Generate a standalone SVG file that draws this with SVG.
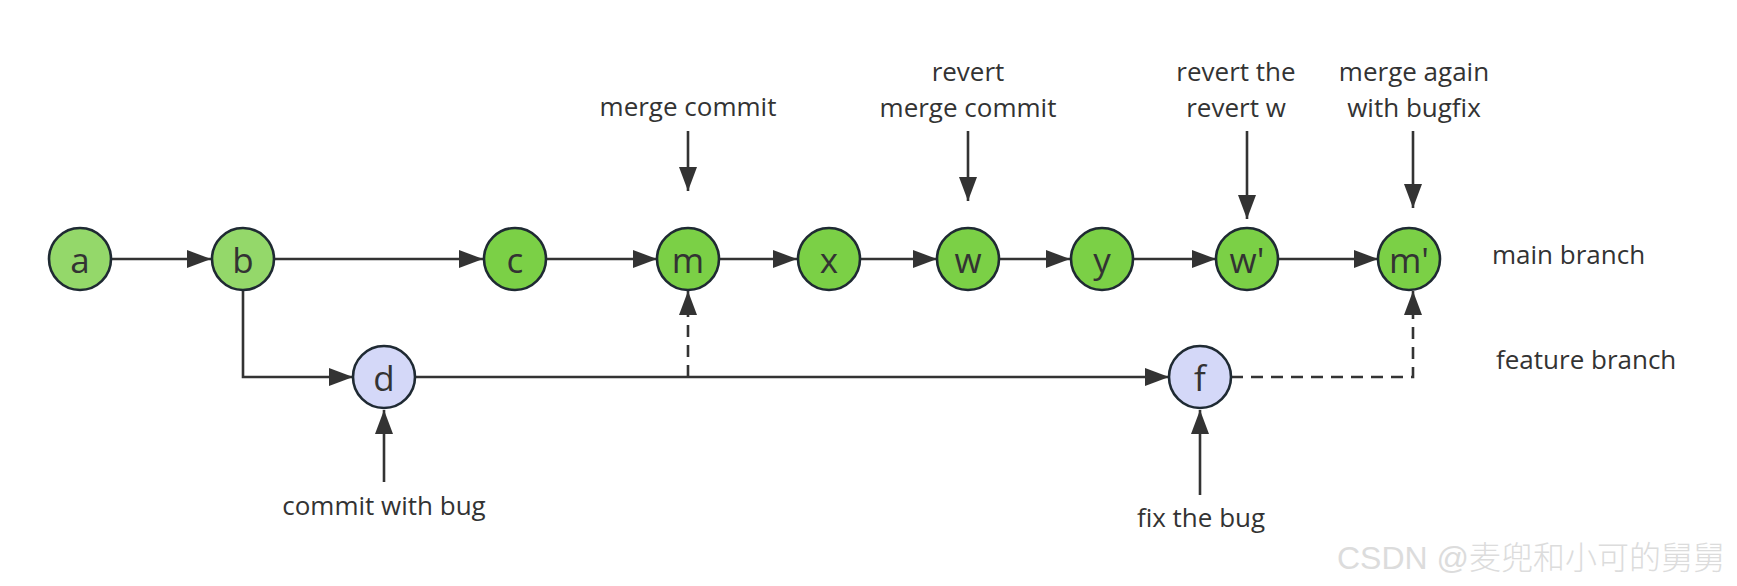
<svg xmlns="http://www.w3.org/2000/svg" width="1737" height="586" viewBox="0 0 1737 586">
<style>
.n circle{stroke:#1f2a33;stroke-width:2.6}
.main1 circle{fill:#94d86a}
.main2 circle{fill:#7bd046}
.feat circle{fill:#d4d8f8}
.n text{font-family:"Open Sans","Noto Sans",sans-serif;font-size:35px;fill:#333;text-anchor:middle;dominant-baseline:central}
.lbl{font-family:"Open Sans","Noto Sans",sans-serif;font-size:26px;fill:#333;text-anchor:middle}
.side{font-family:"Open Sans","Noto Sans",sans-serif;font-size:26px;fill:#333}
.e{stroke:#333;stroke-width:2.6;fill:none}
.d{stroke-dasharray:12 8}
</style>
<defs>
<marker id="ah" markerUnits="userSpaceOnUse" markerWidth="26" markerHeight="20" refX="24" refY="9" orient="auto">
<path d="M0,0 L24,9 L0,18 z" fill="#333"/>
</marker>
</defs>
<rect width="1737" height="586" fill="#fff"/>
<g id="connectors">
<path class="e" d="M111,259 H211" marker-end="url(#ah)"/>
<path class="e" d="M274,259 H483" marker-end="url(#ah)"/>
<path class="e" d="M546,259 H657" marker-end="url(#ah)"/>
<path class="e" d="M719,259 H797" marker-end="url(#ah)"/>
<path class="e" d="M860,259 H937" marker-end="url(#ah)"/>
<path class="e" d="M999,259 H1070" marker-end="url(#ah)"/>
<path class="e" d="M1132,259 H1216" marker-end="url(#ah)"/>
<path class="e" d="M1278,259 H1378" marker-end="url(#ah)"/>
<path class="e" d="M243,290 V377 H353" marker-end="url(#ah)"/>
<path class="e" d="M416,377 H1169" marker-end="url(#ah)"/>
<path class="e d" d="M688,377 V291" marker-end="url(#ah)"/>
<path class="e d" d="M1231,377 H1413 V291" marker-end="url(#ah)"/>
<path class="e" d="M688,131 V191" marker-end="url(#ah)"/>
<path class="e" d="M968,131 V201" marker-end="url(#ah)"/>
<path class="e" d="M1247,131 V219" marker-end="url(#ah)"/>
<path class="e" d="M1413,131 V208" marker-end="url(#ah)"/>
<path class="e" d="M384,482 V410" marker-end="url(#ah)"/>
<path class="e" d="M1200,495 V410" marker-end="url(#ah)"/>
</g>
<g id="node-a" class="n main1"><circle cx="80" cy="259" r="31"/><text x="80" y="259">a</text></g>
<g id="node-b" class="n main1"><circle cx="243" cy="259" r="31"/><text x="243" y="259">b</text></g>
<g id="node-c" class="n main2"><circle cx="515" cy="259" r="31"/><text x="515" y="259">c</text></g>
<g id="node-m" class="n main2"><circle cx="688" cy="259" r="31"/><text x="688" y="259">m</text></g>
<g id="node-x" class="n main2"><circle cx="829" cy="259" r="31"/><text x="829" y="259">x</text></g>
<g id="node-w" class="n main2"><circle cx="968" cy="259" r="31"/><text x="968" y="259">w</text></g>
<g id="node-y" class="n main2"><circle cx="1102" cy="259" r="31"/><text x="1102" y="259">y</text></g>
<g id="node-w2" class="n main2"><circle cx="1247" cy="259" r="31"/><text x="1247" y="259">w'</text></g>
<g id="node-m2" class="n main2"><circle cx="1409" cy="259" r="31"/><text x="1409" y="259">m'</text></g>
<g id="node-d" class="n feat"><circle cx="384" cy="377" r="31"/><text x="384" y="377">d</text></g>
<g id="node-f" class="n feat"><circle cx="1200" cy="377" r="31"/><text x="1200" y="377">f</text></g>
<g id="labels">
<text class="lbl" x="688" y="116">merge commit</text>
<text class="lbl" x="968" y="81">revert<tspan x="968" dy="36">merge commit</tspan></text>
<text class="lbl" x="1236" y="81">revert the<tspan x="1236" dy="36">revert w</tspan></text>
<text class="lbl" x="1414" y="81">merge again<tspan x="1414" dy="36">with bugfix</tspan></text>
<text class="side" x="1492" y="264">main branch</text>
<text class="side" x="1496" y="369">feature branch</text>
<text class="lbl" x="384" y="515">commit with bug</text>
<text class="lbl" x="1201" y="527">fix the bug</text>
<text x="1337" y="569" font-family="'Liberation Sans','Noto Sans CJK SC',sans-serif" font-size="32" font-weight="300" fill="#dcdcdc">CSDN @麦兜和小可的舅舅</text>
</g>
</svg>
